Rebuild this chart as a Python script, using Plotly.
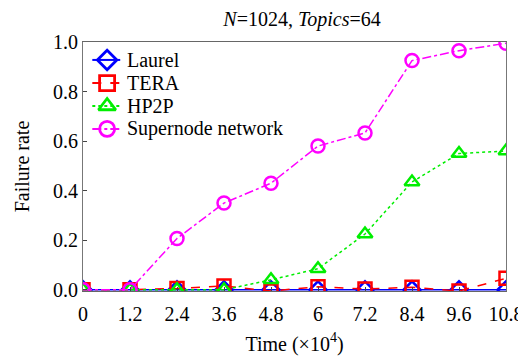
import plotly.graph_objects as go

time = [0, 1.2, 2.4, 3.6, 4.8, 6, 7.2, 8.4, 9.6, 10.8]
laurel = [0, 0, 0, 0, 0, 0, 0, 0, 0, 0]
tera = [0, 0, 0.005, 0.015, -0.005, 0.012, 0.003, 0.01, -0.005, 0.046]
hp2p = [0, 0, 0, 0, 0.04, 0.085, 0.225, 0.435, 0.55, 0.56]
supernode = [0, 0, 0.207, 0.35, 0.43, 0.58, 0.633, 0.925, 0.965, 0.995]
tick_vals = time
tick_text = ["0", "1.2", "2.4", "3.6", "4.8", "6", "7.2", "8.4", "9.6", "10.8"]
names = ["Laurel", "TERA", "HP2P", "Supernode network"]

series = [
    (names[0], laurel, "#0000ff", "solid", "diamond-open"),
    (names[1], tera, "#ff0000", "dash", "square-open"),
    (names[2], hp2p, "#00ee00", "dot", "triangle-up-open"),
    (names[3], supernode, "#ff00ff", "dashdot", "circle-open"),
]

font = "Liberation Serif"
fig = go.Figure()
for name, y, color, dash, sym in series:
    fig.add_trace(go.Scatter(
        x=time, y=y, name=name, mode="lines+markers", showlegend=False,
        line=dict(color=color, width=1.5, dash=dash),
        marker=dict(symbol=sym, size=13, color=color, line=dict(width=2.5, color=color)),
    ))

# manual legend drawn on an overlay axis spanning the plot area (fractions 0..1)
row_y = [0.928, 0.835, 0.743, 0.651]
for i, (name, y, color, dash, sym) in enumerate(series):
    fig.add_trace(go.Scatter(
        x=[0.022, 0.057, 0.088], y=[row_y[i]] * 3, xaxis="x2", yaxis="y2",
        mode="lines", showlegend=False, hoverinfo="skip",
        line=dict(color=color, width=2, dash=dash),
    ))
    fig.add_trace(go.Scatter(
        x=[0.057], y=[row_y[i]], xaxis="x2", yaxis="y2",
        mode="markers", showlegend=False, hoverinfo="skip",
        marker=dict(symbol=sym, size=15, color=color, line=dict(width=2.8, color=color)),
    ))
    fig.add_annotation(x=0.099, y=row_y[i], xref="x2", yref="y2", text=name,
                       showarrow=False, xanchor="left", yanchor="middle",
                       font=dict(family=font, size=20, color="black"))

fig.update_layout(
    width=518, height=356,
    margin=dict(l=83, r=12, t=42, b=65),
    paper_bgcolor="white", plot_bgcolor="white",
    font=dict(family=font, size=20, color="black"),
    title=dict(text="<i>N</i>=1024, <i>Topics</i>=64", x=0.583, xanchor="center",
               y=0.947, yanchor="middle", font=dict(family=font, size=20)),
    showlegend=False,
    xaxis=dict(range=[0, 10.8], tickvals=tick_vals, ticktext=tick_text,
               ticks="inside", ticklen=4, showgrid=False, zeroline=False,
               showline=True, linecolor="#666", mirror=True, automargin=False,
               ticklabeloverflow="allow", ticklabelstandoff=5,
               tickfont=dict(family=font, size=20),
               title=dict(text="Time (×10<sup>4</sup>)", font=dict(family=font, size=20), standoff=12)),
    yaxis=dict(range=[-0.005, 1.0], tickvals=[0, 0.2, 0.4, 0.6, 0.8, 1.0],
               ticktext=["0.0", "0.2", "0.4", "0.6", "0.8", "1.0"],
               ticks="inside", ticklen=4, showgrid=False, zeroline=False,
               showline=True, linecolor="#777", mirror=True, automargin=False,
               tickfont=dict(family=font, size=20),
               title=dict(text="Failure rate", font=dict(family=font, size=20), standoff=18)),
    xaxis2=dict(range=[0, 1], overlaying="x", visible=False, fixedrange=True),
    yaxis2=dict(range=[0, 1], overlaying="y", visible=False, fixedrange=True),
)
fig.write_html("out.html")
